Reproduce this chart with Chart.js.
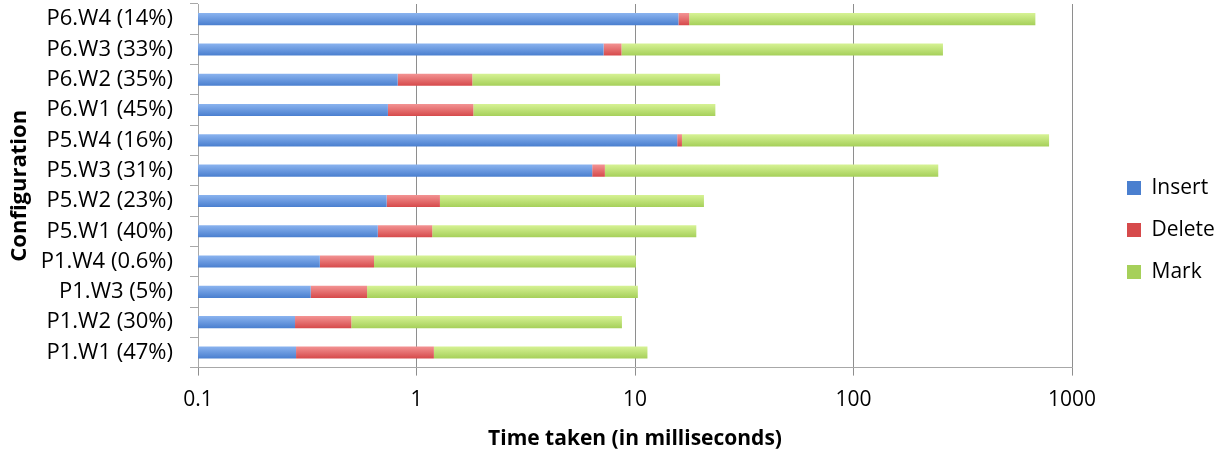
<!DOCTYPE html>
<html>
<head>
<meta charset="utf-8">
<script src="https://cdn.jsdelivr.net/npm/chart.js@4"></script>
<style>
  html, body { margin: 0; padding: 0; background: #fff; }
  #wrap { width: 1228px; height: 456px; }
</style>
</head>
<body>
<div id="wrap"><canvas id="timeChart" width="1228" height="456"></canvas></div>
<script>
const configs = [
  'P6.W4 (14%)', 'P6.W3 (33%)', 'P6.W2 (35%)', 'P6.W1 (45%)',
  'P5.W4 (16%)', 'P5.W3 (31%)', 'P5.W2 (23%)', 'P5.W1 (40%)',
  'P1.W4 (0.6%)', 'P1.W3 (5%)', 'P1.W2 (30%)', 'P1.W1 (47%)'
];

// time per phase, ms
const insertMs = [15.8, 7.18, 0.82, 0.74, 15.6, 6.37, 0.73, 0.665, 0.361, 0.328, 0.278, 0.281];
const deleteMs = [1.9, 1.49, 0.98, 1.08, 0.8, 0.91, 0.55, 0.515, 0.278, 0.266, 0.225, 0.92];
const markMs = [662, 248, 22.7, 21.5, 769, 237, 19.4, 17.9, 9.46, 9.71, 8.21, 10.2];

const xTicks = [0.1, 1, 10, 100, 1000];

const FONT = "'Open Sans', 'DejaVu Sans', sans-serif";

// light top, dark bottom like the office bars
function barFill(top, bottom, solid) {
  return c => {
    const chart = c.chart;
    const y = chart.scales && chart.scales.y;
    if (c.dataIndex === undefined || !y) return solid;
    const py = y.getPixelForValue(c.dataIndex);
    if (!isFinite(py)) return solid;
    const g = chart.ctx.createLinearGradient(0, py - 6, 0, py + 6);
    g.addColorStop(0, top);
    g.addColorStop(1, bottom);
    return g;
  };
}

// legend sits a bit away from the plot, not glued to it
const legendShift = {
  id: 'legendShift',
  afterLayout(chart) {
    const lg = chart.legend;
    if (!lg) return;
    lg.left += 34;
    lg.right += 34;
  }
};

const ctx = document.getElementById('timeChart').getContext('2d');

new Chart(ctx, {
  type: 'bar',
  data: {
    labels: configs,
    datasets: [
      {
        label: 'Insert',
        data: insertMs,
        backgroundColor: barFill('#8ab3ef', '#4a7fcf', '#5b8fdc')
      },
      {
        label: 'Delete',
        data: deleteMs,
        backgroundColor: barFill('#f39393', '#d64a4b', '#e45e5f')
      },
      {
        label: 'Mark',
        data: markMs,
        backgroundColor: barFill('#d6f294', '#a6d05a', '#b8df70')
      }
    ]
  },
  plugins: [legendShift],
  options: {
    indexAxis: 'y',
    responsive: false,
    animation: false,
    categoryPercentage: 1,
    barPercentage: 0.4,
    layout: { padding: { top: 4, right: 0, left: 0, bottom: 0 } },
    plugins: {
      legend: {
        position: 'right',
        labels: {
          font: { family: FONT, size: 21 },
          color: '#000',
          boxWidth: 14,
          boxHeight: 14,
          padding: 21
        }
      },
      tooltip: { enabled: false }
    },
    scales: {
      x: {
        type: 'logarithmic',
        stacked: true,
        min: 0.1,
        max: 1000,
        afterBuildTicks: scale => {
          scale.ticks = xTicks.map(v => ({ value: v, major: true }));
        },
        afterFit: scale => {
          scale.paddingRight = 156;
        },
        ticks: {
          font: { family: FONT, size: 21 },
          color: '#000',
          padding: 12,
          maxRotation: 0,
          autoSkip: false,
          callback: v => String(v)
        },
        grid: {
          color: '#8e8e8e',
          lineWidth: 1,
          tickLength: 8
        },
        border: { color: '#a8a8a8' },
        title: {
          display: true,
          text: 'Time taken (in milliseconds)',
          font: { family: FONT, size: 21, weight: 'bold' },
          color: '#000',
          padding: { top: 2, bottom: 4 }
        }
      },
      y: {
        stacked: true,
        afterFit: scale => {
          scale.width = 198;
          scale.paddingTop = 0;
          scale.paddingBottom = 0;
        },
        ticks: {
          font: { family: FONT, size: 22 },
          color: '#000',
          padding: 17,
          autoSkip: false
        },
        grid: {
          offset: true,
          drawOnChartArea: false,
          color: '#a8a8a8',
          tickLength: 8
        },
        border: { color: '#a8a8a8' },
        title: {
          display: true,
          text: 'Configuration',
          font: { family: FONT, size: 22, weight: 'bold' },
          color: '#000',
          padding: { top: 7, bottom: 0 }
        }
      }
    }
  }
});
</script>
</body>
</html>
